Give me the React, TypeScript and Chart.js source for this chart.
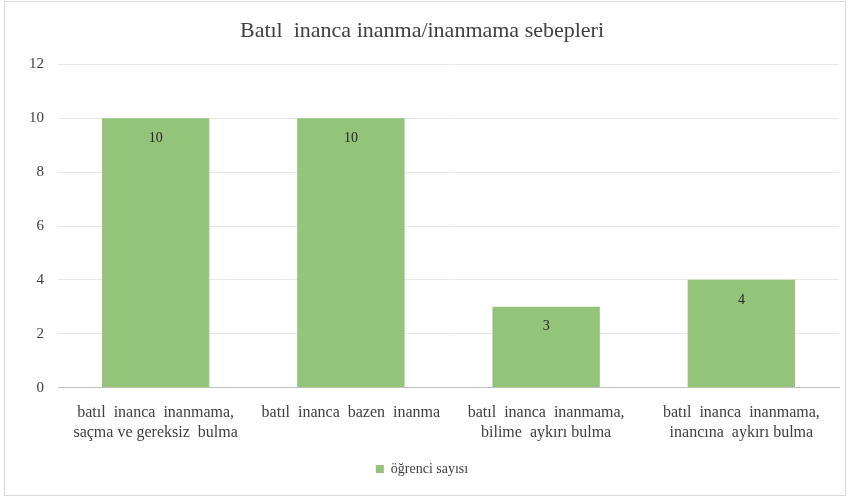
import React, { useEffect, useRef } from "react";
import { Chart, registerables } from "chart.js";

Chart.register(...registerables);

const categories: string[][] = [
  ["batıl  inanca  inanmama,", "saçma ve gereksiz  bulma"],
  ["batıl  inanca  bazen  inanma"],
  ["batıl  inanca  inanmama,", "bilime  aykırı bulma"],
  ["batıl  inanca  inanmama,", "inancına  aykırı bulma"],
];
const seriesName = "öğrenci sayısı";
const values: number[] = [10, 10, 3, 4];
const titleText = "Batıl  inanca inanma/inanmama sebepleri";
const yMax = 12;
const yStep = 2;

const BAR = "#93c47a";
const TEXT = "#404040";
const FONT = "'Liberation Serif', 'Times New Roman', serif";

const dataLabels = {
  id: "dataLabels",
  afterDatasetsDraw(chart: any) {
    const ctx = chart.ctx;
    const meta = chart.getDatasetMeta(0);
    ctx.save();
    ctx.font = `14px ${FONT}`;
    ctx.fillStyle = "#262626";
    ctx.textAlign = "center";
    ctx.textBaseline = "middle";
    meta.data.forEach((bar: any, i: number) => {
      ctx.fillText(String(values[i]), bar.x, bar.y + 20);
    });
    ctx.restore();
  },
};

export default function App() {
  const ref = useRef<HTMLCanvasElement>(null);
  useEffect(() => {
    document.body.style.margin = "0";
    const chart = new Chart(ref.current as HTMLCanvasElement, {
      type: "bar",
      data: {
        labels: categories,
        datasets: [
          {
            label: seriesName,
            data: values,
            backgroundColor: BAR,
            barPercentage: 0.55,
            categoryPercentage: 1,
          },
        ],
      },
      options: {
        animation: false,
        responsive: false,
        maintainAspectRatio: false,
        layout: { padding: { left: 0, right: 4, top: 0, bottom: 7 } },
        plugins: {
          title: {
            display: true,
            text: titleText,
            color: TEXT,
            font: { family: FONT, size: 22, weight: "normal" },
            padding: { top: 16, bottom: 20 },
          },
          legend: {
            position: "bottom",
            labels: {
              color: TEXT,
              font: { family: FONT, size: 14 },
              boxWidth: 8,
              boxHeight: 8,
              padding: 12,
            },
          },
          tooltip: { enabled: false },
        },
        scales: {
          x: {
            grid: { display: false },
            border: { color: "#bfbfbf" },
            ticks: {
              color: TEXT,
              font: { family: FONT, size: 16 },
              maxRotation: 0,
              autoSkip: false,
              padding: 8,
            },
          },
          y: {
            min: 0,
            max: yMax,
            grid: { color: "#e8e8e8", drawTicks: false },
            border: { display: false },
            ticks: {
              stepSize: yStep,
              color: TEXT,
              font: { family: FONT, size: 15 },
              padding: 14,
            },
            afterFit(scale: any) {
              scale.width = 53;
            },
          },
        },
      },
      plugins: [dataLabels],
    });
    return () => chart.destroy();
  }, []);
  return (
    <div
      style={{
        position: "absolute",
        left: 4,
        top: 1,
        width: 840,
        height: 493,
        border: "1px solid #d9d9d9",
        background: "#fff",
        boxSizing: "content-box",
      }}
    >
      <canvas ref={ref} width={838} height={491} style={{ display: "block" }} />
    </div>
  );
}
